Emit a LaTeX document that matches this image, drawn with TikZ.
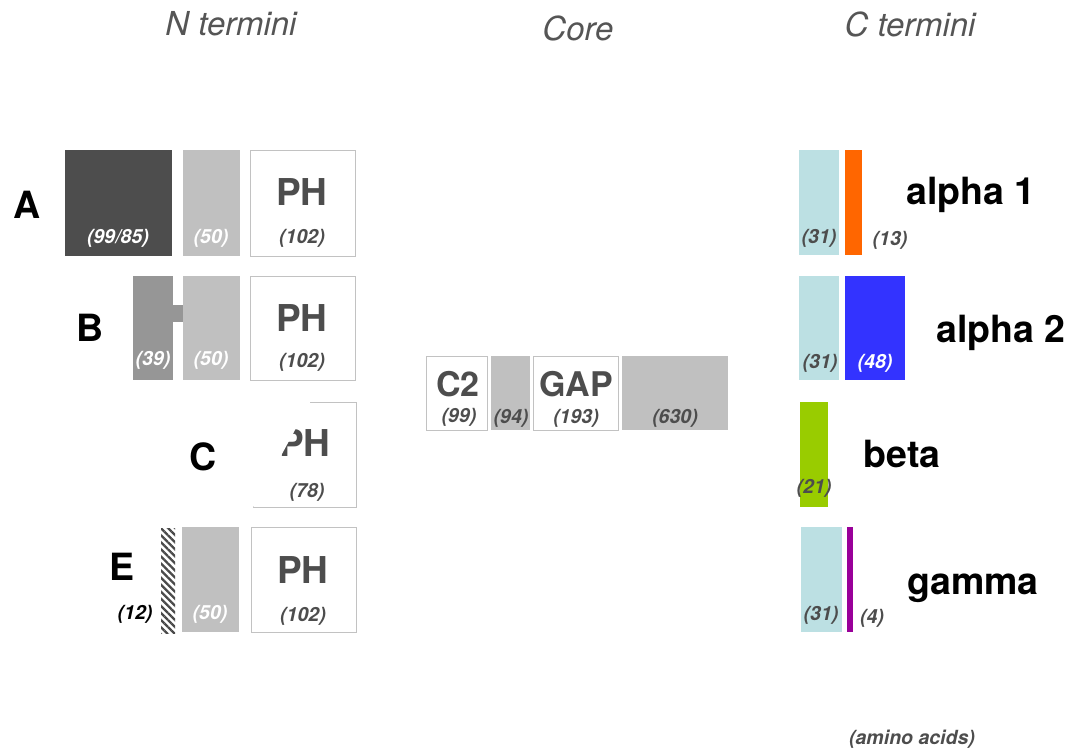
\documentclass[tikz,border=0pt]{standalone}
\usepackage{fontspec}
\setmainfont{TeX Gyre Heros}
\usetikzlibrary{patterns.meta}
\definecolor{darkfill}{HTML}{4D4D4D}
\definecolor{midfill}{HTML}{969696}
\definecolor{lightfill}{HTML}{C0C0C0}
\definecolor{edgegray}{HTML}{C2C2C2}
\definecolor{txtgray}{HTML}{4D4D4D}
\definecolor{headgray}{HTML}{555555}
\definecolor{cyanfill}{HTML}{BCE0E3}
\definecolor{orangefill}{HTML}{FF6600}
\definecolor{bluefill}{HTML}{3333FF}
\definecolor{greenfill}{HTML}{99CC00}
\definecolor{purplefill}{HTML}{990099}
\definecolor{hatchgray}{HTML}{4A4A4A}
\begin{document}
\begin{tikzpicture}[x=1pt,y=-1pt,
  blk/.style={rectangle,inner sep=0pt,anchor=north west,draw=none},
  wbox/.style={blk,draw=edgegray,fill=white,line width=1.2pt},
  num/.style={inner sep=0pt,text=txtgray,font=\fontsize{19.5}{21}\selectfont\bfseries\itshape},
  wnum/.style={num,text=white},
  dom/.style={inner sep=0pt,text=txtgray,font=\fontsize{37}{40}\selectfont\bfseries},
  cdom/.style={dom,font=\fontsize{34}{38}\selectfont\bfseries},
  lab/.style={inner sep=0pt,text=black,font=\fontsize{37.5}{40}\selectfont\bfseries},
  head/.style={inner sep=0pt,text=headgray,font=\fontsize{33}{36}\selectfont\itshape}]
\useasboundingbox (0,0) rectangle (1076,749);

% column headings
\node[head] (hN) at (231,24) {N termini};
\node[head] (hCore) at (578,28) {Core};
\node[head] (hC) at (910,24) {C termini};

% ---------- N termini ----------
% row A
\node[lab] (lA) at (27,205) {A};
\node[blk,fill=darkfill,minimum width=107pt,minimum height=106pt] (a1) at (65,150) {};
\node[blk,fill=lightfill,minimum width=57pt,minimum height=106pt] (a2) at (183,150) {};
\node[wbox,minimum width=105pt,minimum height=106pt] (a3) at (250,150) {};
\node[wnum] (a1n) at (118,238) {(99/85)};
\node[wnum] (a2n) at (211,238) {(50)};
\node[dom] (a3t) at (302,192) {PH};
\node[num] (a3n) at (302,238) {(102)};

% row B
\node[lab] (lB) at (90,328) {B};
\node[blk,fill=midfill,minimum width=40pt,minimum height=104pt] (b1) at (133,276) {};
\node[blk,fill=midfill,minimum width=12pt,minimum height=17pt] (btab) at (172,305) {};
\node[blk,fill=lightfill,minimum width=57pt,minimum height=104pt] (b2) at (183,276) {};
\node[wbox,minimum width=105pt,minimum height=104pt] (b3) at (250,276) {};
\node[wnum] (b1n) at (153,360) {(39)};
\node[wnum] (b2n) at (211,360) {(50)};
\node[dom] (b3t) at (302,318) {PH};
\node[num] (b3n) at (302,362) {(102)};

% row C: truncated PH domain
\node[wbox,minimum width=103pt,minimum height=105pt] (c3) at (253,402) {};
\node[dom] (c3t) at (305,443) {PH};
\node[num] (c3n) at (307,492) {(78)};
\fill[white] (238,396) -- (313.5,396) -- (251.5,510) -- (238,510) -- cycle;
\node[lab] (lC) at (203,457) {C};

% row E
\node[lab] (lE) at (122,567) {E};
\node[blk,minimum width=14pt,minimum height=105pt,
  pattern={Lines[angle=-45,distance=5pt,line width=2.3pt]},pattern color=hatchgray] (e1) at (160,527) {};
\node[blk,fill=lightfill,minimum width=57pt,minimum height=105pt] (e2) at (182,527) {};
\node[wbox,minimum width=105pt,minimum height=105pt] (e3) at (251,527) {};
\node[num,text=black] (e1n) at (135,614) {(12)};
\node[wnum] (e2n) at (210,614) {(50)};
\node[dom] (e3t) at (303,570) {PH};
\node[num] (e3n) at (303,616) {(102)};

% ---------- Core ----------
\node[wbox,minimum width=61pt,minimum height=74pt] (k1) at (426,356) {};
\node[blk,fill=lightfill,minimum width=39pt,minimum height=74pt] (k2) at (491,356) {};
\node[wbox,minimum width=85pt,minimum height=74pt] (k3) at (533,356) {};
\node[blk,fill=lightfill,minimum width=106pt,minimum height=74pt] (k4) at (622,356) {};
\node[cdom] (k1t) at (458,384) {C2};
\node[num] (k1n) at (459,417) {(99)};
\node[num] (k2n) at (511,418) {(94)};
\node[cdom] (k3t) at (576,384) {GAP};
\node[num] (k3n) at (576,418) {(193)};
\node[num] (k4n) at (675,418) {(630)};

% ---------- C termini ----------
% alpha 1
\node[blk,fill=cyanfill,minimum width=40pt,minimum height=105pt] (p1) at (799,150) {};
\node[blk,fill=orangefill,minimum width=17pt,minimum height=105pt] (p2) at (845,150) {};
\node[num] (p1n) at (819,238) {(31)};
\node[num] (p2n) at (890,240) {(13)};
\node[lab] (lp) at (971,195) {alpha 1};

% alpha 2
\node[blk,fill=cyanfill,minimum width=40pt,minimum height=104pt] (q1) at (799,276) {};
\node[blk,fill=bluefill,minimum width=60pt,minimum height=104pt] (q2) at (845,276) {};
\node[num] (q1n) at (820,363) {(31)};
\node[wnum] (q2n) at (875,363) {(48)};
\node[lab] (lq) at (1001,333) {alpha 2};

% beta
\node[blk,fill=greenfill,minimum width=28pt,minimum height=105pt] (r1) at (800,402) {};
\node[num] (r1n) at (814,488) {(21)};
\node[lab] (lr) at (902,454) {beta};

% gamma
\node[blk,fill=cyanfill,minimum width=41pt,minimum height=105pt] (s1) at (801,527) {};
\node[blk,fill=purplefill,minimum width=6pt,minimum height=105pt] (s2) at (847,527) {};
\node[num] (s1n) at (821,615) {(31)};
\node[num] (s2n) at (872,618) {(4)};
\node[lab] (ls) at (973,588) {gamma};

\node[num] (units) at (912,739) {(amino acids)};
\end{tikzpicture}
\end{document}
